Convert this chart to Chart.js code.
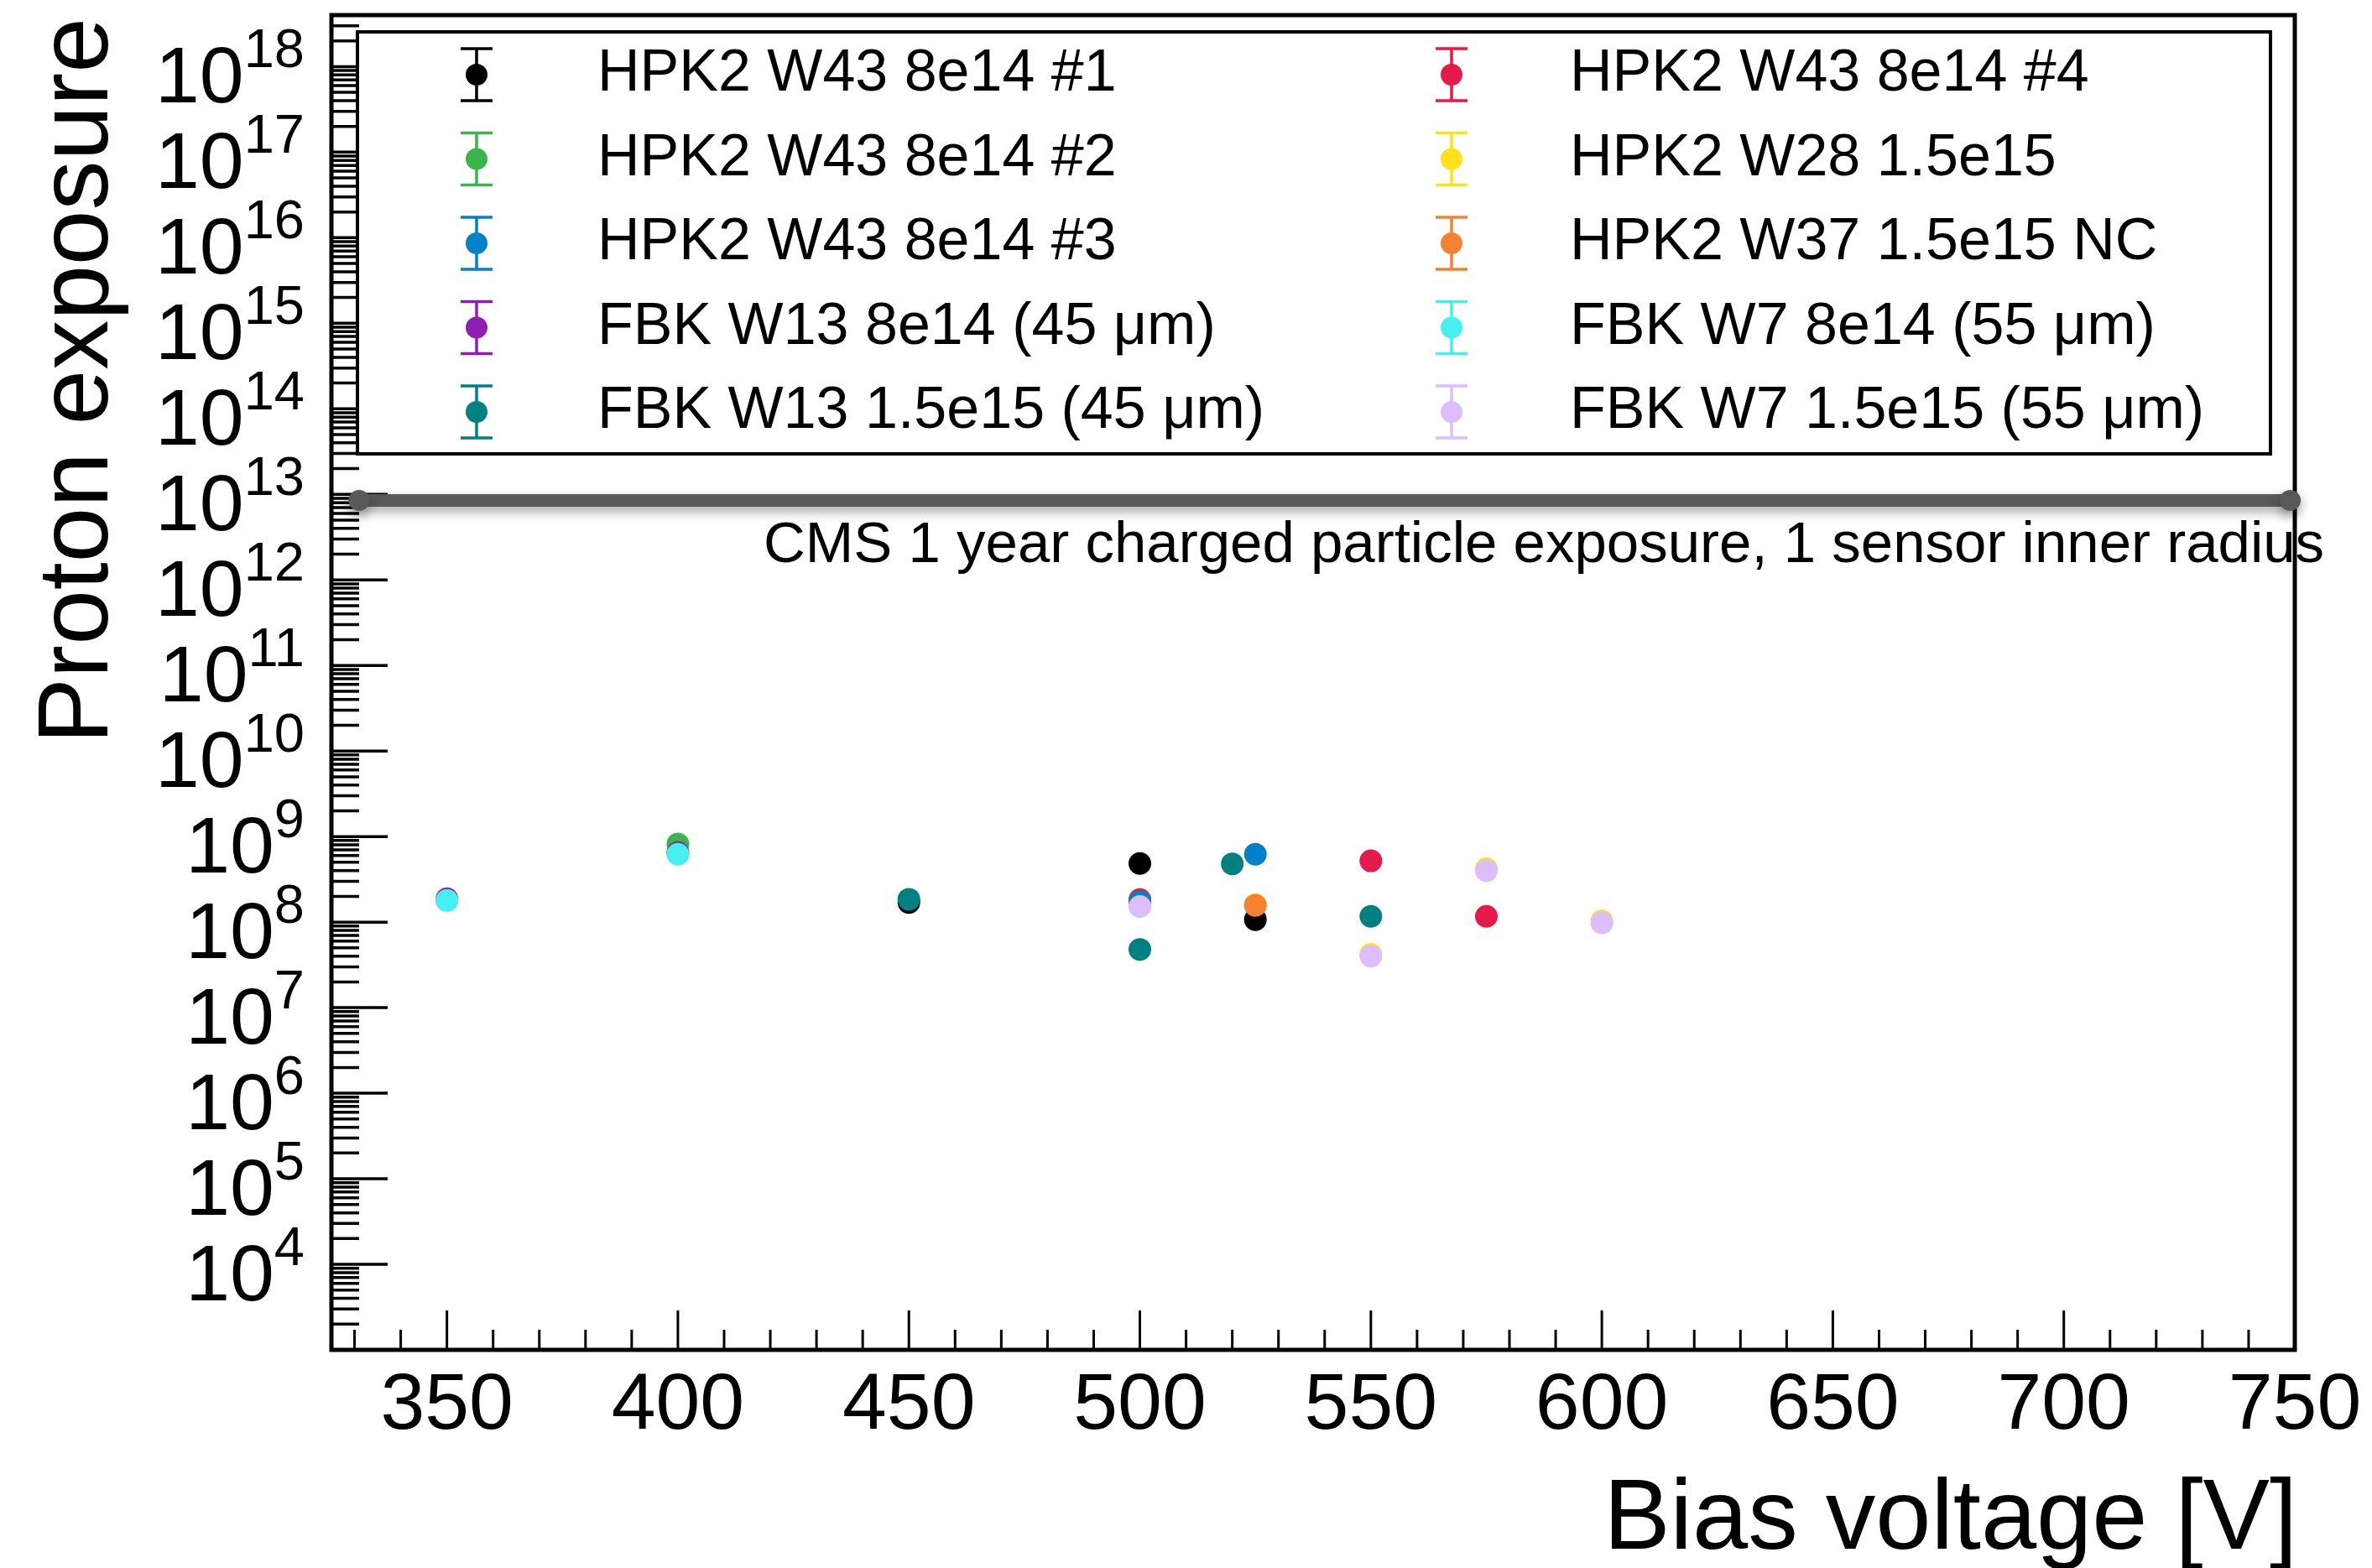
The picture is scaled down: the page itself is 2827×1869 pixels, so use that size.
<!DOCTYPE html>
<html>
<head>
<meta charset="utf-8">
<script src="https://cdn.jsdelivr.net/npm/chart.js@4.4.1/dist/chart.umd.min.js"></script>
<style>
  html, body { margin: 0; padding: 0; background: #ffffff; }
  canvas { display: block; }
</style>
</head>
<body>
<canvas id="grafico" width="2827" height="1869"></canvas>
<script>
// --- datos (V de polarizacion, exposicion de protones) ---
const nombres = [
    'HPK2 W43 8e14 #1', 'HPK2 W43 8e14 #2', 'HPK2 W43 8e14 #3',
    'FBK W13 8e14 (45 μm)', 'FBK W13 1.5e15 (45 μm)',
    'HPK2 W43 8e14 #4', 'HPK2 W28 1.5e15', 'HPK2 W37 1.5e15 NC',
    'FBK W7 8e14 (55 μm)', 'FBK W7 1.5e15 (55 μm)'
];
const colores = ['#000000', '#3cb44b', '#0082c8', '#911eb4', '#008080',
                 '#e6194b', '#ffe119', '#f58231', '#46f0f0', '#dcbeff'];

const hpkW43n1V = [450, 500, 525];
const hpkW43n1E = [1.7e8, 4.85e8, 1.07e8];
const hpkW43n2V = [400];
const hpkW43n2E = [8.2e8];
const hpkW43n3V = [500, 525];
const hpkW43n3E = [1.72e8, 6.2e8];
const fbkW13a_V = [350, 400];
const fbkW13a_E = [1.88e8, 6.5e8];
const fbkW13b_V = [450, 500, 520, 550];
const fbkW13b_E = [1.85e8, 4.8e7, 4.8e8, 1.17e8];
const hpkW43n4V = [500, 550, 575];
const hpkW43n4E = [1.83e8, 5.2e8, 1.17e8];
const hpkW28V = [525, 550, 575, 600];
const hpkW28E = [1.6e8, 4.2e7, 4.2e8, 1.03e8];
const hpkW37V = [525];
const hpkW37E = [1.57e8];
const fbkW7a_V = [350, 400];
const fbkW7a_E = [1.79e8, 6.2e8];
const fbkW7b_V = [500, 550, 575, 600];
const fbkW7b_E = [1.52e8, 4.0e7, 4.0e8, 9.8e7];

// linea de referencia CMS
const cmsV = [331, 749];
const cmsE = [8.5e12, 8.5e12];
const cmsTexto = 'CMS 1 year charged particle exposure, 1 sensor inner radius';

// ejes
const xMin = 325, xMax = 750;
const yMin = 1e3, yMax = 4e18;
const xEtiquetas = [350, 400, 450, 500, 550, 600, 650, 700, 750];
const yExponentes = [4, 5, 6, 7, 8, 9, 10, 11, 12, 13, 14, 15, 16, 17, 18];

const seriesV = [hpkW43n1V, hpkW43n2V, hpkW43n3V, fbkW13a_V, fbkW13b_V,
                 hpkW43n4V, hpkW28V, hpkW37V, fbkW7a_V, fbkW7b_V];
const seriesE = [hpkW43n1E, hpkW43n2E, hpkW43n3E, fbkW13a_E, fbkW13b_E,
                 hpkW43n4E, hpkW28E, hpkW37E, fbkW7a_E, fbkW7b_E];
// orden de dibujo: la leyenda se llena por filas (col1, col2, col1, ...)
const ordenDibujo = [0, 5, 1, 6, 2, 7, 3, 8, 4, 9];

const FUENTE = '"Liberation Sans", Arial, Helvetica, sans-serif';

const datasets = nombres.map((nombre, i) => ({
    type: 'scatter',
    label: nombre,
    data: seriesV[i].map((v, k) => ({ x: v, y: seriesE[i][k] })),
    backgroundColor: colores[i],
    borderWidth: 0,
    pointRadius: 13.5,
    pointHoverRadius: 13.5,
    order: 50 - ordenDibujo.indexOf(i)
}));

datasets.push({
    type: 'line',
    label: 'cms',
    data: cmsV.map((v, k) => ({ x: v, y: cmsE[k] })),
    borderColor: '#595959',
    borderWidth: 15,
    borderCapStyle: 'round',
    pointRadius: 12.5,
    pointBackgroundColor: '#595959',
    pointBorderWidth: 0,
    clip: false,
    order: 100
});
const idxCms = datasets.length - 1;

// --- ejes estilo ROOT: marco, marcas hacia dentro, etiquetas 10^n ---
const ejesRoot = {
    id: 'ejesRoot',
    beforeDatasetsDraw(chart) {
        const { ctx, chartArea: a, scales: { x, y } } = chart;
        ctx.save();
        ctx.strokeStyle = '#000';
        ctx.fillStyle = '#000';

        // marcas eje Y (log)
        ctx.lineWidth = 3.5;
        for (let e = 3; e <= 18; e++) {
            for (let m = 1; m <= 9; m++) {
                const v = m * Math.pow(10, e);
                if (v < yMin || v > yMax * 1.0001) continue;
                const py = y.getPixelForValue(v);
                const largo = m === 1 ? 67 : 33;
                ctx.beginPath();
                ctx.moveTo(a.left, py);
                ctx.lineTo(a.left + largo, py);
                ctx.stroke();
            }
        }

        // marcas eje X
        ctx.lineWidth = 3;
        for (let v = 330; v < xMax; v += 10) {
            const px = x.getPixelForValue(v);
            const largo = v % 50 === 0 ? 47 : 24;
            ctx.beginPath();
            ctx.moveTo(px, a.bottom);
            ctx.lineTo(px, a.bottom - largo);
            ctx.stroke();
        }

        // marco
        ctx.lineWidth = 5;
        ctx.strokeRect(a.left, a.top, a.right - a.left, a.bottom - a.top);

        // etiquetas eje Y
        ctx.textBaseline = 'alphabetic';
        ctx.textAlign = 'left';
        const derecha = a.left - 32;
        yExponentes.forEach(e => {
            const py = y.getPixelForValue(Math.pow(10, e));
            ctx.font = '65px ' + FUENTE;
            const wExp = ctx.measureText(String(e)).width;
            ctx.fillText(String(e), derecha - wExp, py + 1);
            ctx.font = '95px ' + FUENTE;
            const wBase = ctx.measureText('10').width;
            ctx.fillText('10', derecha - wExp - wBase, py + 43);
        });

        // etiquetas eje X
        ctx.font = '95px ' + FUENTE;
        ctx.textAlign = 'center';
        xEtiquetas.forEach(v => {
            ctx.fillText(String(v), x.getPixelForValue(v), a.bottom + 94);
        });

        // titulos
        ctx.font = '119px ' + FUENTE;
        ctx.textAlign = 'right';
        ctx.fillText('Bias voltage [V]', a.right + 3, 1846);

        ctx.save();
        ctx.translate(128, a.top + 3);
        ctx.rotate(-Math.PI / 2);
        ctx.font = '118px ' + FUENTE;
        ctx.textAlign = 'right';
        ctx.fillText('Proton exposure', 0, 0);
        ctx.restore();

        ctx.restore();
    },
    beforeDatasetDraw(chart, args) {
        if (args.index === idxCms) {
            const ctx = chart.ctx;
            ctx.save();
            ctx.shadowColor = 'rgba(0, 0, 0, 0.35)';
            ctx.shadowBlur = 14;
            ctx.shadowOffsetY = 6;
        }
    },
    afterDatasetDraw(chart, args) {
        if (args.index === idxCms) chart.ctx.restore();
    },
    afterDraw(chart) {
        const { ctx } = chart;
        ctx.save();

        // texto de la linea CMS
        ctx.fillStyle = '#000';
        ctx.font = '69px ' + FUENTE;
        ctx.textAlign = 'left';
        ctx.textBaseline = 'alphabetic';
        ctx.fillText(cmsTexto, 910, 670);

        // leyenda (2 columnas)
        ctx.fillStyle = '#fff';
        ctx.fillRect(426, 38, 2280, 503);
        ctx.strokeStyle = '#000';
        ctx.lineWidth = 4;
        ctx.strokeRect(426, 38, 2280, 503);

        const colMarca = [568, 1730];
        const colTexto = [712, 1871];
        ctx.font = '70px ' + FUENTE;
        nombres.forEach((nombre, i) => {
            const col = i < 5 ? 0 : 1;
            const fila = i % 5;
            const cy = 89 + fila * 100.5;
            const cx = colMarca[col];
            ctx.strokeStyle = colores[i];
            ctx.lineWidth = 3.5;
            ctx.beginPath();
            ctx.moveTo(cx, cy - 31); ctx.lineTo(cx, cy + 31);
            ctx.moveTo(cx - 19, cy - 31); ctx.lineTo(cx + 19, cy - 31);
            ctx.moveTo(cx - 19, cy + 31); ctx.lineTo(cx + 19, cy + 31);
            ctx.stroke();
            ctx.fillStyle = colores[i];
            ctx.beginPath();
            ctx.arc(cx, cy, 13, 0, Math.PI * 2);
            ctx.fill();
            ctx.fillStyle = '#000';
            ctx.fillText(nombre, colTexto[col], cy + 19);
        });

        ctx.restore();
    }
};

new Chart(document.getElementById('grafico'), {
    data: { datasets: datasets },
    options: {
        responsive: false,
        animation: false,
        devicePixelRatio: 1,
        layout: { padding: { left: 395, right: 92, top: 18, bottom: 260 } },
        plugins: {
            legend: { display: false },
            tooltip: { enabled: false }
        },
        scales: {
            x: { type: 'linear', min: xMin, max: xMax, display: false },
            y: { type: 'logarithmic', min: yMin, max: yMax, display: false }
        }
    },
    plugins: [ejesRoot]
});
</script>
</body>
</html>
